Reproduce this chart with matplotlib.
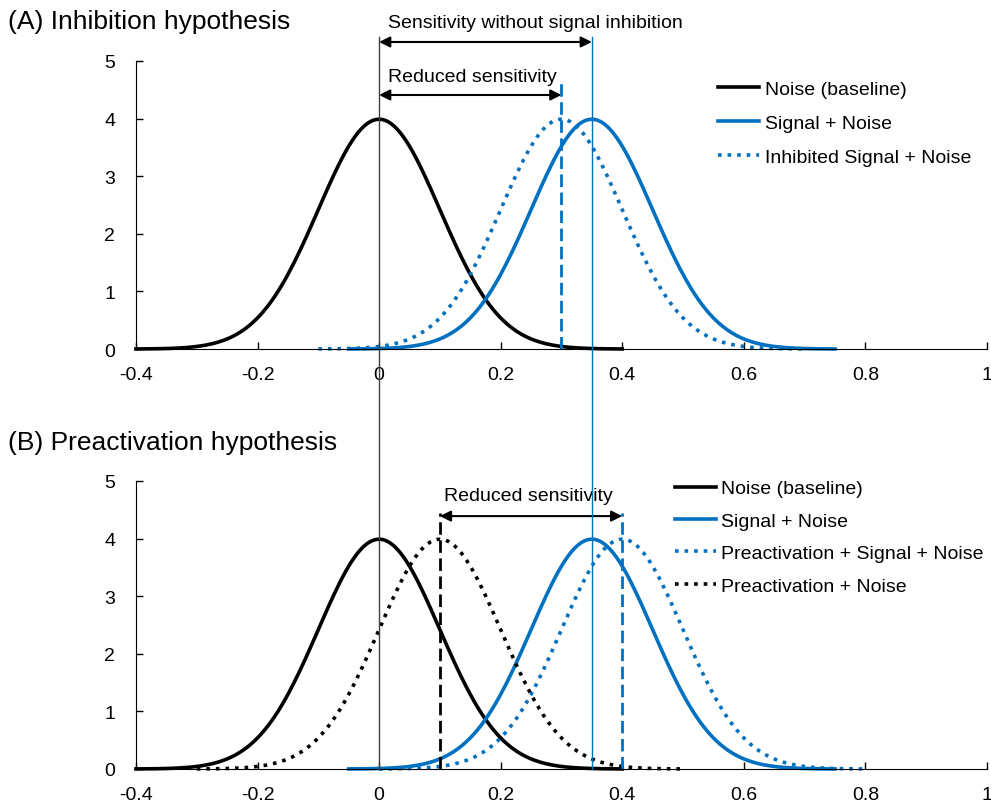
import numpy as np
import matplotlib
matplotlib.use('Agg')
import matplotlib.pyplot as plt
from matplotlib.lines import Line2D

plt.rcParams['font.family'] = ['Liberation Sans', 'DejaVu Sans']

#%% Data (normal curves, sd 0.1, drawn mean +/- 0.4)

sd = 0.1
half_range = 0.4

# panel A
a_labels = ['Noise (baseline)', 'Signal + Noise', 'Inhibited Signal + Noise']
a_means = [0.0, 0.35, 0.3]

# panel B
b_labels = ['Noise (baseline)', 'Signal + Noise', 'Preactivation + Signal + Noise',
            'Preactivation + Noise']
b_means = [0.0, 0.35, 0.4, 0.1]

x_ticks = [-0.4, -0.2, 0, 0.2, 0.4, 0.6, 0.8, 1]
x_tick_labels = ['-0.4', '-0.2', '0', '0.2', '0.4', '0.6', '0.8', '1']
y_ticks = [0, 1, 2, 3, 4, 5]

blue = '#0070C0'
dash = (4.5, 2)


def normal_curve(mean):
    x = np.linspace(mean - half_range, mean + half_range, 161)
    y = np.exp(-0.5 * ((x - mean) / sd) ** 2) / (sd * np.sqrt(2 * np.pi))
    return x, y


def style_axes(ax):
    ax.set_xlim(-0.4, 1)
    ax.set_ylim(0, 5)
    ax.set_xticks(x_ticks)
    ax.set_xticklabels(x_tick_labels)
    ax.set_yticks(y_ticks)
    ax.spines['top'].set_visible(False)
    ax.spines['right'].set_visible(False)
    ax.tick_params(direction='in', length=5, width=1, labelsize=14)
    ax.tick_params(axis='x', pad=12)
    ax.tick_params(axis='y', pad=15)


def arrow(ax, x0, x1, y):
    ax.annotate('', xy=(x1, y), xytext=(x0, y), annotation_clip=False,
                arrowprops=dict(arrowstyle='<|-|>', color='black', lw=1.5,
                                mutation_scale=16, shrinkA=0, shrinkB=0))


fig = plt.figure(figsize=(9.91, 8.03), dpi=100)
axA = fig.add_axes([0.1372, 0.5641, 0.8587, 0.3587])
axB = fig.add_axes([0.1372, 0.0411, 0.8587, 0.3587])

#%% Panel A

styles_a = [('black', '-'), (blue, '-'), (blue, ':')]
for m, lab, (c, ls) in zip(a_means, a_labels, styles_a):
    x, y = normal_curve(m)
    axA.plot(x, y, color=c, ls=ls, lw=2.6, label=lab, clip_on=False)

axA.plot([a_means[2], a_means[2]], [0, 4.68], color=blue, ls='--', dashes=dash, lw=2)
arrow(axA, 0, a_means[2], 4.41)
axA.text(0.015, 4.73, 'Reduced sensitivity', fontsize=14, va='center', ha='left')
arrow(axA, 0, a_means[1], 5.33)
axA.text(0.015, 5.66, 'Sensitivity without signal inhibition', fontsize=14,
         va='center', ha='left', clip_on=False)
style_axes(axA)
axA.legend(loc='upper left', bbox_to_anchor=(0.675, 0.959), frameon=False,
           fontsize=14, handlelength=2.1, handletextpad=0.3, labelspacing=0.83,
           borderaxespad=0)

#%% Panel B

styles_b = [('black', '-'), (blue, '-'), (blue, ':'), ('black', ':')]
for m, lab, (c, ls) in zip(b_means, b_labels, styles_b):
    x, y = normal_curve(m)
    axB.plot(x, y, color=c, ls=ls, lw=2.6, label=lab, clip_on=False)

axB.plot([b_means[3], b_means[3]], [0, 4.45], color='black', ls='--', dashes=dash, lw=2)
axB.plot([b_means[2], b_means[2]], [0, 4.45], color=blue, ls='--', dashes=dash, lw=2)
arrow(axB, b_means[3], b_means[2], 4.39)
axB.text(0.245, 4.75, 'Reduced sensitivity', fontsize=14, va='center', ha='center')
style_axes(axB)
axB.legend(loc='upper left', bbox_to_anchor=(0.624, 1.031), frameon=False,
           fontsize=14, handlelength=2.1, handletextpad=0.3, labelspacing=0.76,
           borderaxespad=0)

#%% Reference lines running through both panels

to_fig = fig.transFigure.inverted()
for xv, c in [(0, '#404040'), (a_means[1], blue)]:
    top = to_fig.transform(axA.transData.transform((xv, 5.42)))
    bottom = to_fig.transform(axB.transData.transform((xv, 0)))
    fig.add_artist(Line2D([top[0], bottom[0]], [top[1], bottom[1]],
                          transform=fig.transFigure, color=c, lw=1, zorder=5))

fig.text(8 / 991, 1 - 22 / 803, '(A) Inhibition hypothesis', fontsize=19, va='center')
fig.text(8 / 991, 1 - 443 / 803, '(B) Preactivation hypothesis', fontsize=19, va='center')

fig.savefig('out.png', dpi=100)
